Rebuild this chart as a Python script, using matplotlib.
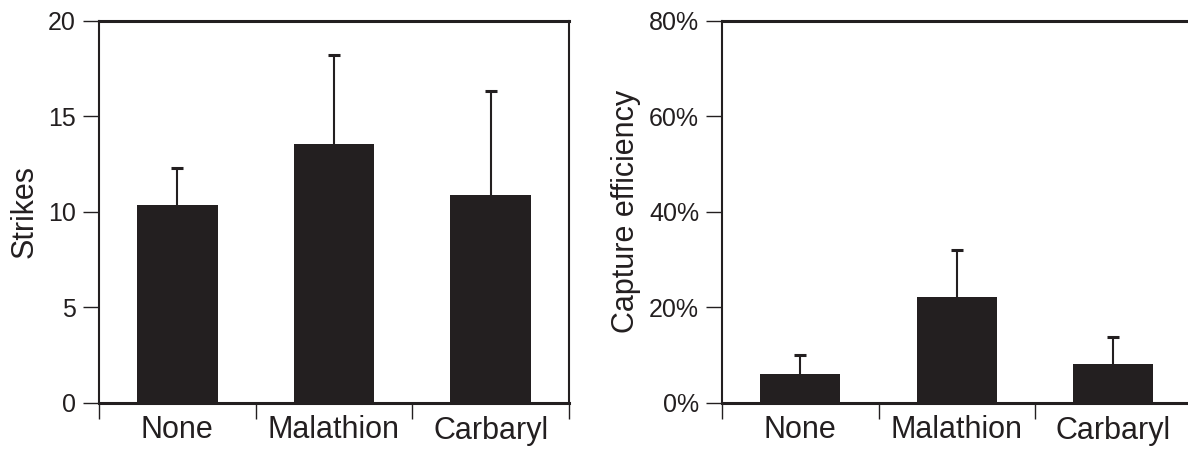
import matplotlib
matplotlib.use("Agg")
from matplotlib import pyplot as plt
import numpy as np

plt.rcParams['font.family'] = ['Liberation Sans', 'DejaVu Sans']

treatments = ["None", "Malathion", "Carbaryl"]
strikes = [10.35, 13.55, 10.85]
strikes_err = [1.95, 4.65, 5.45]
capture = [6.1, 22.2, 8.2]
capture_err = [3.9, 9.9, 5.7]

ink = '#231f20'

fig = plt.figure(figsize=(11.88, 4.5), dpi=100)
ax1 = fig.add_axes([99/1188, 1-403/450, 470/1188, 382.5/450])
ax2 = fig.add_axes([722/1188, 1-403/450, 469.5/1188, 382.5/450])

def draw_panel(ax, vals, errs, ymax, ylabel, pct):
    x = np.arange(len(treatments))
    vals = np.array(vals)
    errs = np.array(errs)
    ax.bar(x, vals, width=0.514, color=ink, zorder=2)
    # upper error only: stem + cap on top
    ax.vlines(x, vals, vals + errs, color=ink, linewidth=1.5, zorder=1)
    ax.plot(x, vals + errs, linestyle='none', marker='_', markersize=9,
            markeredgewidth=2.2, color=ink, zorder=1)
    ax.set_xlim(-0.5, len(treatments)-0.5)
    ax.set_ylim(0, ymax)
    ax.set_xticks(x)
    ax.set_xticklabels(treatments, fontsize=22)
    ax.set_xticks(np.arange(-0.5, len(treatments)), minor=True)
    ax.tick_params(axis='x', which='major', length=0, pad=9, colors=ink)
    ax.tick_params(axis='x', which='minor', length=11.5, width=1.0,
                   direction='out', color=ink)
    ticks = np.linspace(0, ymax, 5)
    ax.set_yticks(ticks)
    if pct:
        ax.set_yticklabels(["%d%%" % t for t in ticks])
    else:
        ax.set_yticklabels(["%d" % t for t in ticks])
    ax.tick_params(axis='y', length=11.5, width=1.0, direction='out',
                   labelsize=18, pad=5, colors=ink)
    ax.set_ylabel(ylabel, fontsize=22, color=ink, labelpad=6)
    for side in ['top', 'bottom']:
        ax.spines[side].set_linewidth(2.2)
        ax.spines[side].set_color(ink)
    for side in ['left', 'right']:
        ax.spines[side].set_linewidth(1.5)
        ax.spines[side].set_color(ink)

draw_panel(ax1, strikes, strikes_err, 20, "Strikes", False)
draw_panel(ax2, capture, capture_err, 80, "Capture efficiency", True)

fig.savefig("out.png", dpi=100)
